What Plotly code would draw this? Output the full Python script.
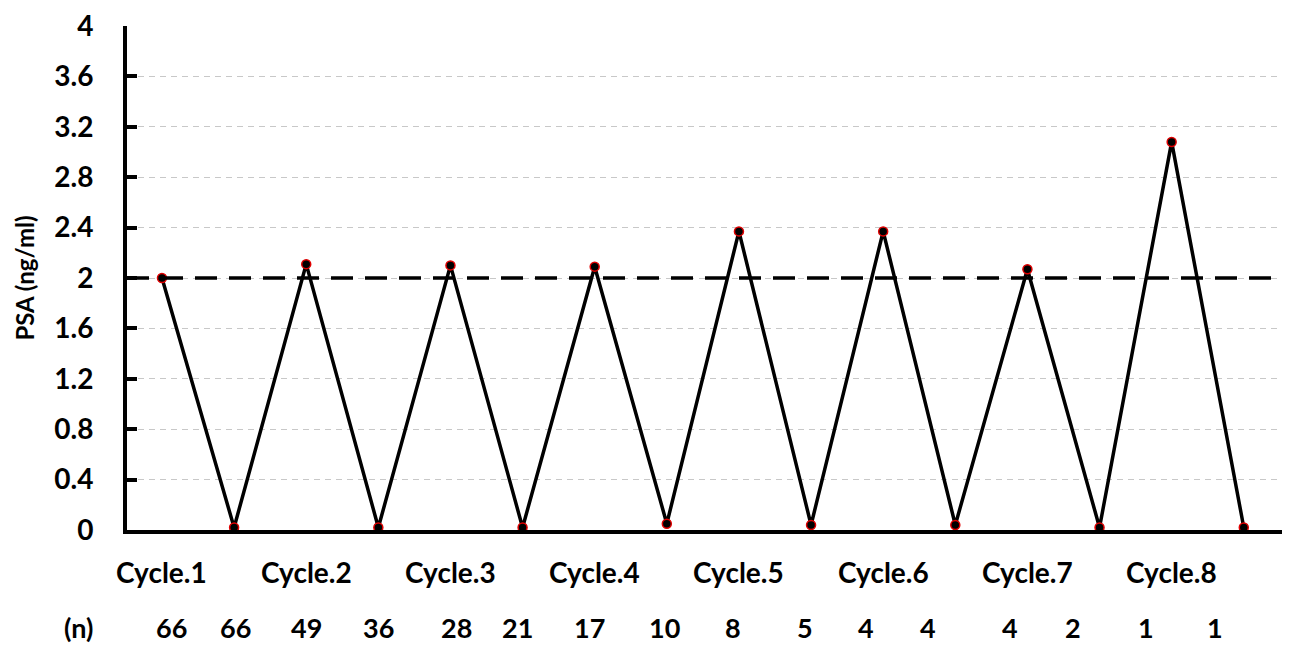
import plotly.graph_objects as go

# ---- data ----
psa_values = [2.00, 0.02, 2.11, 0.02, 2.10, 0.02, 2.09, 0.05,
              2.37, 0.04, 2.37, 0.04, 2.07, 0.02, 3.08, 0.02]
cycle_labels = ["Cycle.1", "Cycle.2", "Cycle.3", "Cycle.4",
                "Cycle.5", "Cycle.6", "Cycle.7", "Cycle.8"]
n_labels = ["66", "66", "49", "36", "28", "21", "17", "10",
            "8", "5", "4", "4", "4", "2", "1", "1"]
y_ticks = [0, 0.4, 0.8, 1.2, 1.6, 2, 2.4, 2.8, 3.2, 3.6, 4]
threshold = 2.0

# text placement tweaks (pixels) for the (n) row, as laid out in the original
n_label_xshift = [10, 1, 0, 0, 6, -5, -5, -2, -6, -6, -17, -27, -17, -27, -26, -29]

FONT = "Lato"
x_idx = list(range(len(psa_values)))

fig = go.Figure()
fig.add_shape(type="line", xref="paper", yref="y", x0=0, x1=1,
              y0=threshold, y1=threshold,
              line=dict(color="black", width=3.5, dash="22px,12px"), layer="above")
fig.add_trace(go.Scatter(
    x=x_idx, y=psa_values, mode="lines+markers",
    line=dict(color="black", width=3.5),
    marker=dict(size=9, color="black", line=dict(color="#e00000", width=1.5)),
    showlegend=False, cliponaxis=False,
))

annotations = []
for i, lab in enumerate(cycle_labels):
    annotations.append(dict(x=2 * i, y=0, xref="x", yref="paper", text=lab,
                            showarrow=False, xanchor="center", yanchor="middle", yshift=-42,
                            font=dict(family=FONT, size=28, color="black", weight="bold")))
for i, lab in enumerate(n_labels):
    annotations.append(dict(x=i, y=0, xref="x", yref="paper", text=lab,
                            showarrow=False, xanchor="center", yanchor="middle",
                            yshift=-97, xshift=n_label_xshift[i],
                            font=dict(family=FONT, size=27, color="black", weight="bold")))
annotations.append(dict(x=-0.042, y=0, xref="paper", yref="paper", text="(n)",
                        showarrow=False, xanchor="center", yanchor="middle", yshift=-97,
                        font=dict(family=FONT, size=27, color="black", weight="bold")))

fig.update_layout(
    width=1290, height=645,
    margin=dict(l=127, r=8, t=22, b=115),
    plot_bgcolor="white", paper_bgcolor="white",
    annotations=annotations,
    font=dict(family=FONT, color="black"),
)
fig.update_xaxes(
    range=[-0.485, 15.53], showticklabels=False, showgrid=False, zeroline=False,
    showline=True, linecolor="black", linewidth=4, ticks="",
)
fig.update_yaxes(
    range=[0, 4], tickvals=y_ticks, ticktext=[f"{v:g}" for v in y_ticks],
    showgrid=True, gridcolor="#c8c8c8", griddash="6px,5px", gridwidth=1,
    zeroline=False, showline=True, linecolor="black", linewidth=4,
    ticks="inside", ticklen=10, tickwidth=4, tickcolor="black",
    ticklabelstandoff=24,
    tickfont=dict(family=FONT, size=28, color="black", weight="bold"),
    title=dict(text="PSA (ng/ml)", standoff=14,
               font=dict(family=FONT, size=24, color="black", weight="bold")),
)

fig.write_html("out.html", config={"displayModeBar": False},
               post_script="document.body.style.margin='0';")
